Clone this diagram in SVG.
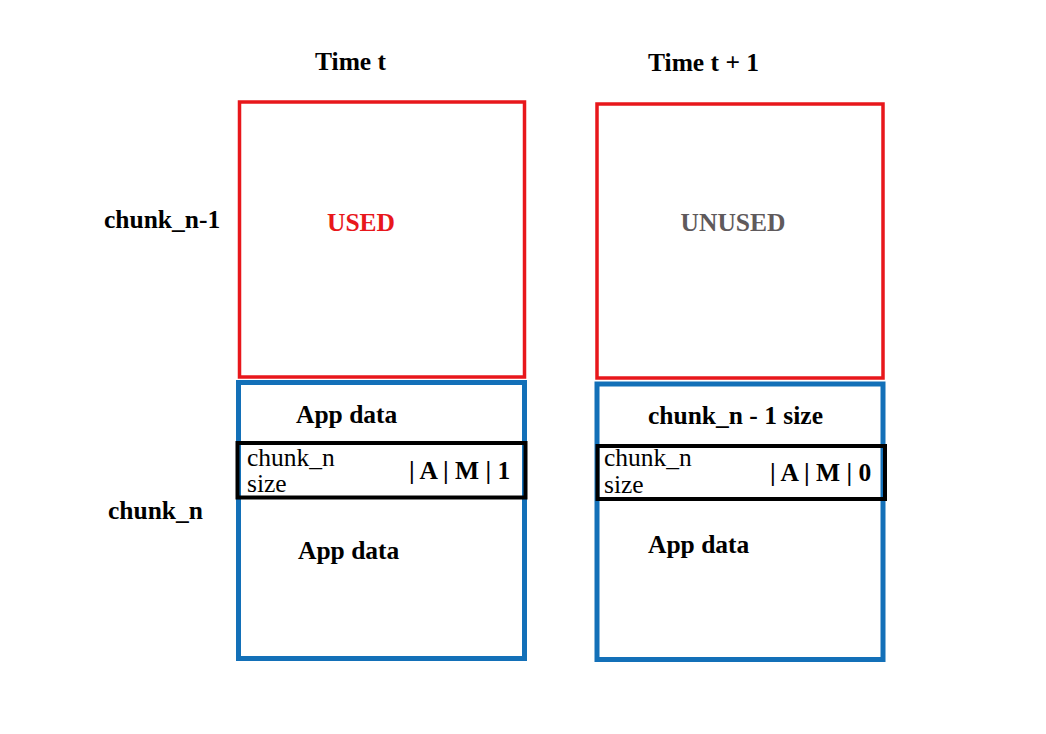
<svg xmlns="http://www.w3.org/2000/svg" width="1046" height="734" viewBox="0 0 1046 734">
<style>
text { font-family: "Liberation Serif", "Times New Roman", serif; font-size: 25.5px; fill: #000; }
.b { font-weight: bold; }
.red { fill: none; stroke: #e8171b; stroke-width: 3.5; }
.blue { fill: none; stroke: #1370b8; stroke-width: 5; }
.blk { fill: none; stroke: #000; stroke-width: 4; }
</style>
<rect width="1046" height="734" fill="#fff"/>
<g id="labels">
<text class="b" x="315" y="70">Time t</text>
<text class="b" x="648" y="71">Time t + 1</text>
<text class="b" x="104" y="228">chunk_n-1</text>
<text class="b" x="108" y="519">chunk_n</text>
</g>
<g id="left-chunk-n-1">
<rect class="red" x="239.5" y="102" width="285" height="275"/>
<text class="b" x="361" y="231" text-anchor="middle" style="fill:#e8171b">USED</text>
</g>
<g id="left-chunk-n">
<rect class="blue" x="238.5" y="382.5" width="286" height="276"/>
<text class="b" x="296" y="423">App data</text>
<rect class="blk" x="237.5" y="443" width="288" height="54.5"/>
<text x="247" y="466">chunk_n</text>
<text x="247" y="492">size</text>
<text class="b" x="409" y="479">| A | M | 1</text>
<text class="b" x="298" y="559">App data</text>
</g>
<g id="right-chunk-n-1">
<rect class="red" x="597" y="104" width="286" height="274"/>
<text class="b" x="733" y="231" text-anchor="middle" style="fill:#5f5a5c">UNUSED</text>
</g>
<g id="right-chunk-n">
<rect class="blue" x="597" y="384" width="286" height="275.5"/>
<text class="b" x="648" y="424">chunk_n - 1 size</text>
<rect class="blk" x="597.5" y="446" width="287.5" height="53"/>
<text x="604" y="466">chunk_n</text>
<text x="604" y="493">size</text>
<text class="b" x="770" y="481">| A | M | 0</text>
<text class="b" x="648" y="553">App data</text>
</g>
<g id="connectors"></g>
</svg>
